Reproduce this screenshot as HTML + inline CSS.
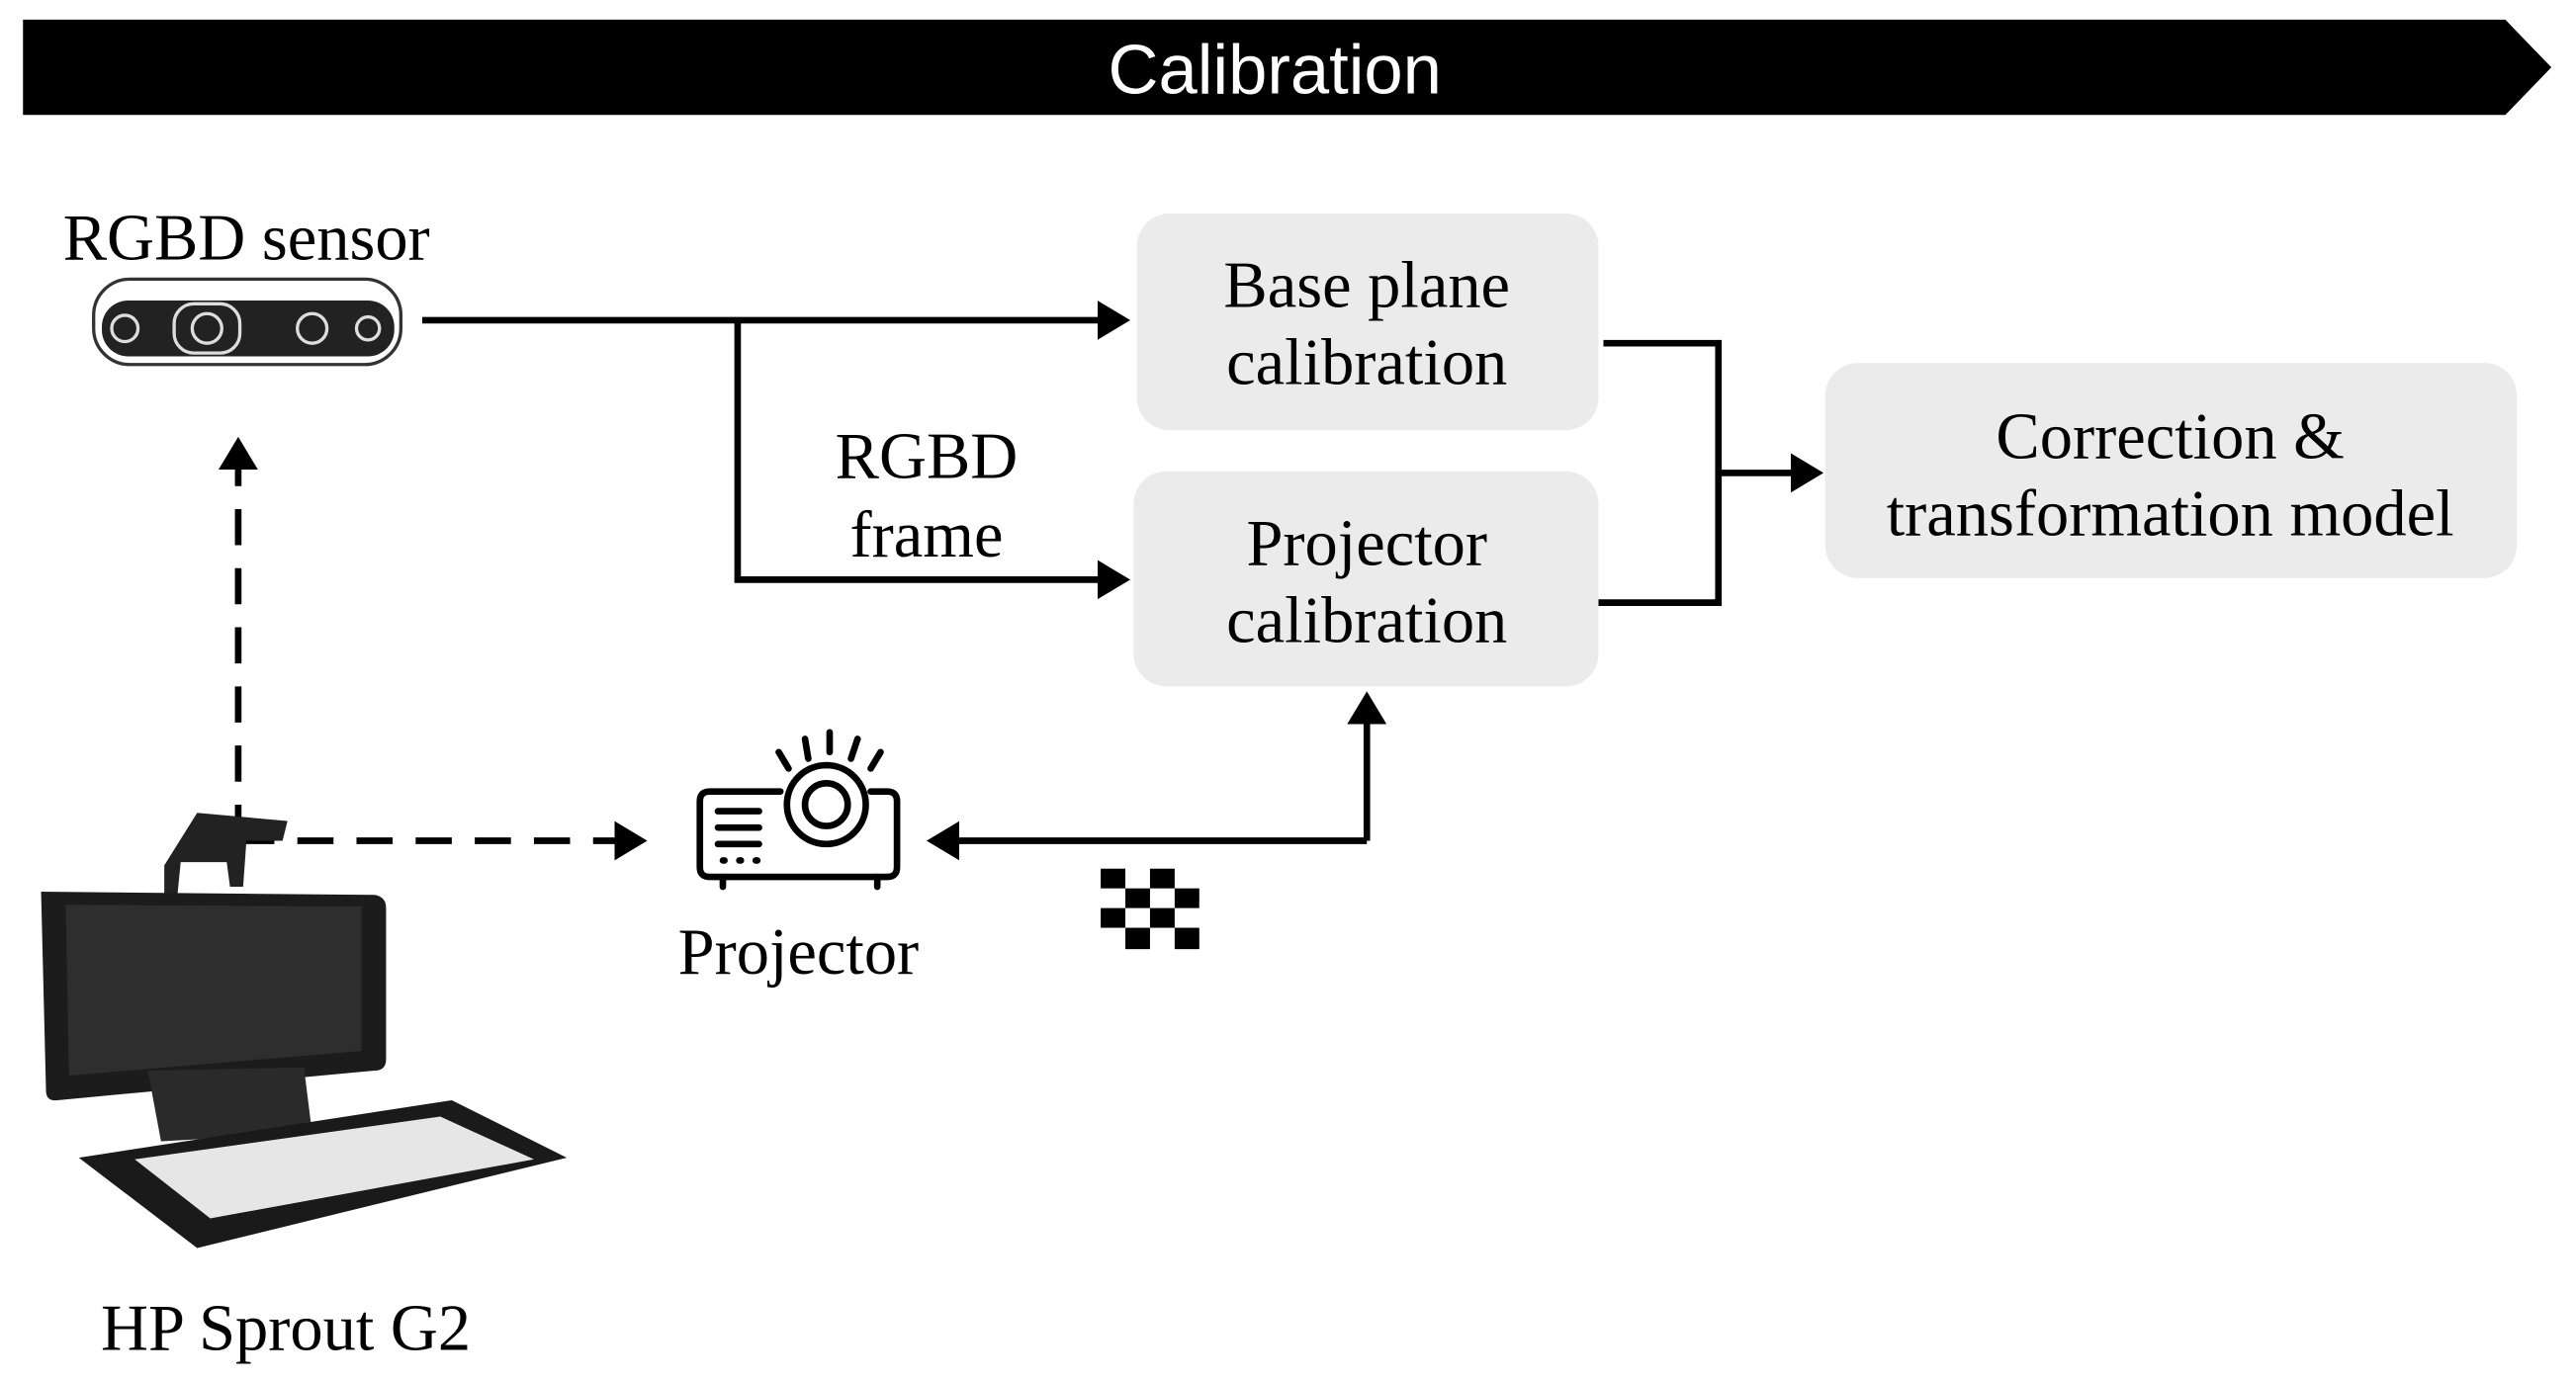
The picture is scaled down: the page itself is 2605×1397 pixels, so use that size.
<!DOCTYPE html>
<html><head><style>html,body{margin:0;padding:0;background:#fff;}svg{display:block;}</style></head>
<body>
<svg width="2605" height="1397" viewBox="0 0 1568 841" preserveAspectRatio="none" xmlns="http://www.w3.org/2000/svg">
<defs>
<marker id="a" markerWidth="6" markerHeight="6" refX="4" refY="3" orient="auto" markerUnits="strokeWidth"><path d="M0,0 L5,3 L0,6 z" fill="#000"/></marker>
</defs>
<polygon points="14,12 1525,12 1553,41 1525,70 14,70" fill="#000"/>
<text x="776" y="57" font-family="Liberation Sans, sans-serif" font-size="42.5" fill="#fff" text-anchor="middle">Calibration</text>
<g font-family="Liberation Serif, serif" font-size="40" fill="#000" text-anchor="middle">
<text x="150" y="158">RGBD sensor</text>
<rect x="692" y="130" width="281" height="132" rx="20" fill="#ebebeb"/>
<rect x="690" y="287" width="283" height="131" rx="20" fill="#ebebeb"/>
<rect x="1111" y="221" width="421" height="131" rx="20" fill="#ebebeb"/>
<text x="832" y="187">Base plane</text><text x="832" y="234">calibration</text>
<text x="832" y="344">Projector</text><text x="832" y="391">calibration</text>
<text x="1321" y="279">Correction &amp;</text><text x="1321" y="326">transformation model</text>
<text x="564" y="291">RGBD</text><text x="564" y="339">frame</text>
<text x="486" y="593">Projector</text>
<text x="174" y="822">HP Sprout G2</text>
</g>
<!-- sensor -->
<rect x="57" y="170" width="187" height="52" rx="22" fill="#fff" stroke="#333" stroke-width="2"/>
<rect x="62" y="183" width="178" height="34" rx="16" fill="#222"/>
<circle cx="76" cy="200" r="8" fill="none" stroke="#ddd" stroke-width="2"/>
<rect x="106" y="185" width="40" height="30" rx="12" fill="none" stroke="#ddd" stroke-width="2"/>
<circle cx="126" cy="200" r="9" fill="none" stroke="#ddd" stroke-width="2"/>
<circle cx="190" cy="200" r="9" fill="none" stroke="#ddd" stroke-width="2"/>
<circle cx="224" cy="200" r="7" fill="none" stroke="#ddd" stroke-width="2"/>
<!-- connectors -->
<g stroke="#000" stroke-width="4" fill="none">
<path d="M257,195 H684" marker-end="url(#a)"/>
<path d="M449,195 V353 H684" marker-end="url(#a)"/>
<path d="M976,209 H1046 V367 H973"/>
<path d="M1046,288 H1106" marker-end="url(#a)"/>
<path d="M832,512 V425" marker-end="url(#a)"/>
<path d="M832,512 H568" marker-end="url(#a)"/>
<path d="M145,512 V270" stroke-dasharray="22,14" marker-end="url(#a)"/>
<path d="M145,512 H390" stroke-dasharray="22,14" marker-end="url(#a)"/>
</g>
<!-- projector icon -->
<g stroke="#000" stroke-width="4" fill="none" stroke-linecap="round">
<path d="M475,482 H432 Q426,482 426,488 V528 Q426,534 432,534 H540 Q546,534 546,528 V488 Q546,482 540,482 H530"/>
<circle cx="503" cy="490" r="24"/><circle cx="503" cy="490" r="13"/>
<path d="M437,494 H462 M437,504 H462 M437,514 H462"/>
<path d="M440,524 h1 M450,524 h1 M460,524 h1"/>
<path d="M480,468 L474,458 M492,462 L490,450 M505,458 V446 M518,462 L522,450 M530,468 L536,458"/>
<path d="M440,534 V540 M534,534 V540"/>
</g>
<!-- checkerboard -->
<g fill="#000">
<rect x="670" y="529" width="15" height="12"/><rect x="700" y="529" width="15" height="12"/>
<rect x="685" y="541" width="15" height="12"/><rect x="715" y="541" width="15" height="12"/>
<rect x="670" y="553" width="15" height="12"/><rect x="700" y="553" width="15" height="12"/>
<rect x="685" y="565" width="15" height="13"/><rect x="715" y="565" width="15" height="13"/>
</g>
<!-- HP Sprout -->
<path d="M100,527 L120,495 L175,500 L172,512 L150,512 L148,540 L140,540 L138,525 L110,525 L108,545 L100,545 Z" fill="#222"/>
<path d="M25,543 L228,545 Q235,546 235,553 L235,645 Q235,652 228,652 L35,670 Q28,671 28,664 Z" fill="#1c1c1c"/>
<path d="M40,551 L220,552 L220,640 L42,655 Z" fill="#2e2e2e"/>
<path d="M90,652 L185,650 L190,690 L98,695 Z" fill="#2a2a2a"/>
<path d="M48,705 L275,670 L345,705 L120,760 Z" fill="#1a1a1a"/>
<path d="M82,706 L268,680 L325,706 L128,742 Z" fill="#e6e6e6"/>
</svg>
</body></html>
